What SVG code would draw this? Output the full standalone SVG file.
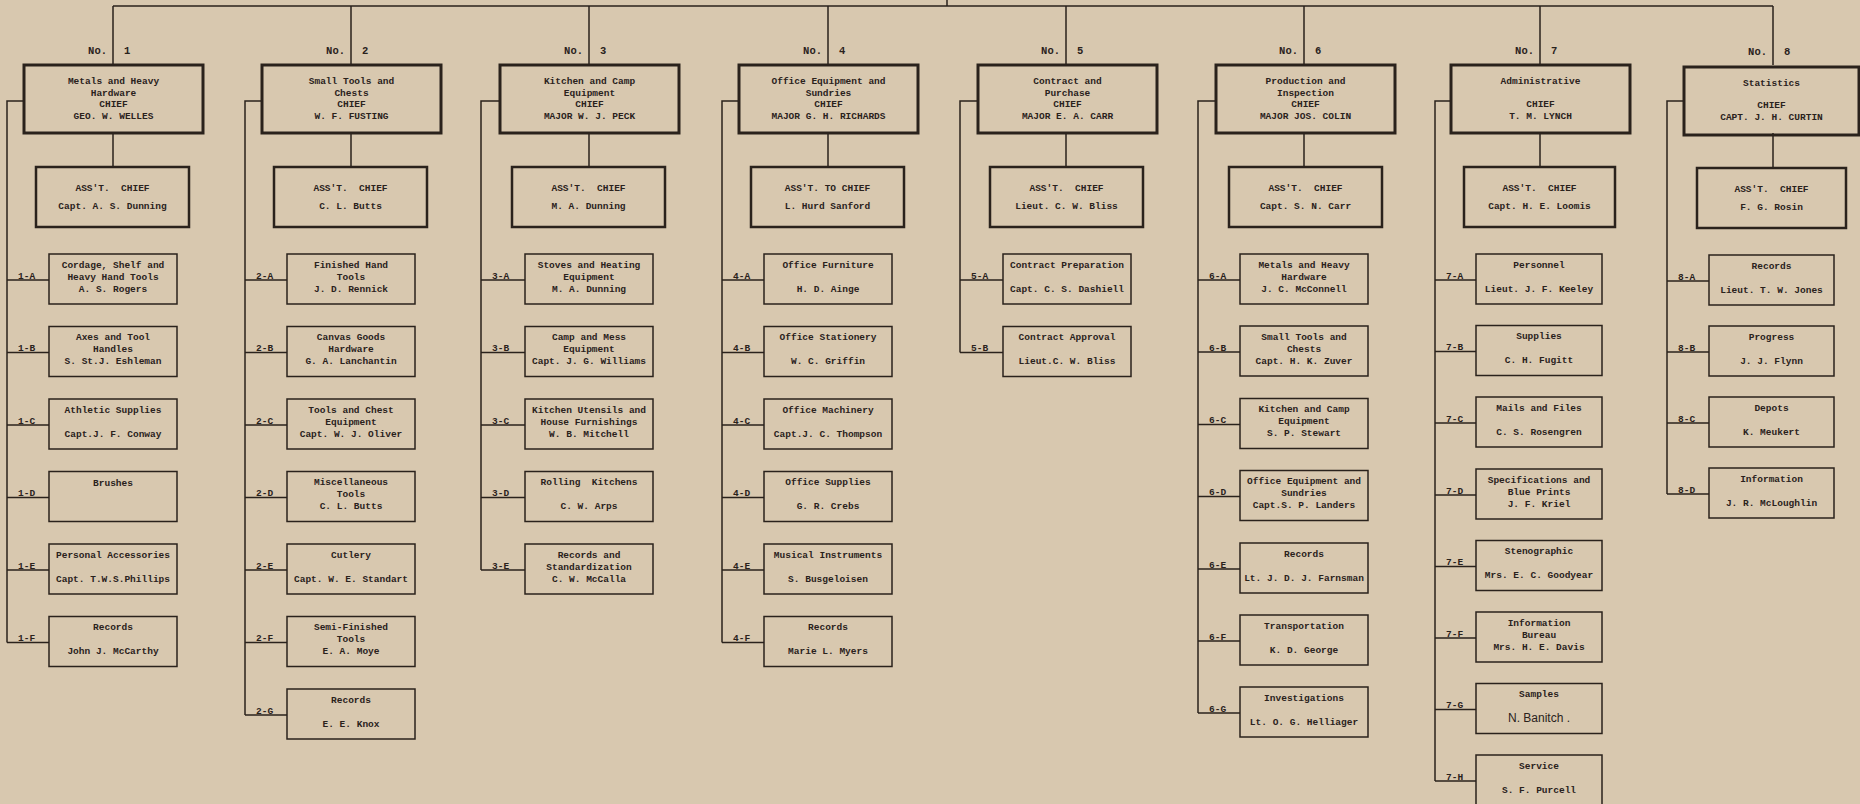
<svg xmlns="http://www.w3.org/2000/svg" width="1860" height="804" viewBox="0 0 1860 804">
<style>
.bg{fill:#d8c8af}
.bx{fill:none;stroke:#2a221c}
.chief{stroke-width:3}
.asst{stroke-width:2.5}
.sub{stroke-width:1.5}
.ln{fill:none;stroke:#2a221c;stroke-width:1.5}
text{font-family:"Liberation Mono","DejaVu Sans Mono",monospace;font-size:9.5px;font-weight:bold;fill:#2a221c;text-anchor:middle}
text.lbl{text-anchor:start}
text.no{font-size:10.5px;text-anchor:end}
text.dg{font-size:10.5px;text-anchor:start}
text.sans{font-family:"Liberation Sans",Arial,sans-serif;font-weight:normal;font-size:12px}
</style>
<rect class="bg" x="0" y="0" width="1860" height="804"/>

<g id="connectors">
<path class="ln" d="M113 6H1773M947 0V6"/>
<path class="ln" d="M113 6V65M113 133V167M24 101H7V642.5M7 280H49M7 352.5H49M7 425H49M7 497.5H49M7 570H49M7 642.5H49"/>
<path class="ln" d="M351 6V65M351 133V167M262 101H245V715M245 280H287M245 352.5H287M245 425H287M245 497.5H287M245 570H287M245 642.5H287M245 715H287"/>
<path class="ln" d="M589 6V65M589 133V167M500 101H481V570M481 280H525M481 352.5H525M481 425H525M481 497.5H525M481 570H525"/>
<path class="ln" d="M828 6V65M828 133V167M739 101H722V642.5M722 280H764M722 352.5H764M722 425H764M722 497.5H764M722 570H764M722 642.5H764"/>
<path class="ln" d="M1066 6V65M1066 133V167M978 101H960V352.5M960 280H1003M960 352.5H1003"/>
<path class="ln" d="M1304 6V65M1304 133V167M1216 101H1198V713M1198 280H1240M1198 352H1240M1198 424.5H1240M1198 496.5H1240M1198 569H1240M1198 641H1240M1198 713H1240"/>
<path class="ln" d="M1540 6V65M1540 133V167M1451 101H1435V781M1435 280H1476M1435 351.5H1476M1435 423H1476M1435 495H1476M1435 566.5H1476M1435 638H1476M1435 709.5H1476M1435 781H1476"/>
<path class="ln" d="M1773 6V65M1773 133V167M1684 101H1667V494M1667 281H1709M1667 352H1709M1667 423H1709M1667 494H1709"/>
<g id="branch-labels">
<text class="lbl" x="18" y="278.5">1-A</text><text class="lbl" x="18" y="351">1-B</text><text class="lbl" x="18" y="423.5">1-C</text><text class="lbl" x="18" y="496">1-D</text><text class="lbl" x="18" y="568.5">1-E</text><text class="lbl" x="18" y="641">1-F</text>
<text class="lbl" x="256" y="278.5">2-A</text><text class="lbl" x="256" y="351">2-B</text><text class="lbl" x="256" y="423.5">2-C</text><text class="lbl" x="256" y="496">2-D</text><text class="lbl" x="256" y="568.5">2-E</text><text class="lbl" x="256" y="641">2-F</text><text class="lbl" x="256" y="713.5">2-G</text>
<text class="lbl" x="492" y="278.5">3-A</text><text class="lbl" x="492" y="351">3-B</text><text class="lbl" x="492" y="423.5">3-C</text><text class="lbl" x="492" y="496">3-D</text><text class="lbl" x="492" y="568.5">3-E</text>
<text class="lbl" x="733" y="278.5">4-A</text><text class="lbl" x="733" y="351">4-B</text><text class="lbl" x="733" y="423.5">4-C</text><text class="lbl" x="733" y="496">4-D</text><text class="lbl" x="733" y="568.5">4-E</text><text class="lbl" x="733" y="641">4-F</text>
<text class="lbl" x="971" y="278.5">5-A</text><text class="lbl" x="971" y="351">5-B</text>
<text class="lbl" x="1209" y="278.5">6-A</text><text class="lbl" x="1209" y="350.5">6-B</text><text class="lbl" x="1209" y="423">6-C</text><text class="lbl" x="1209" y="495">6-D</text><text class="lbl" x="1209" y="567.5">6-E</text><text class="lbl" x="1209" y="639.5">6-F</text><text class="lbl" x="1209" y="711.5">6-G</text>
<text class="lbl" x="1446" y="278.5">7-A</text><text class="lbl" x="1446" y="350">7-B</text><text class="lbl" x="1446" y="421.5">7-C</text><text class="lbl" x="1446" y="493.5">7-D</text><text class="lbl" x="1446" y="565">7-E</text><text class="lbl" x="1446" y="636.5">7-F</text><text class="lbl" x="1446" y="708">7-G</text><text class="lbl" x="1446" y="779.5">7-H</text>
<text class="lbl" x="1678" y="279.5">8-A</text><text class="lbl" x="1678" y="350.5">8-B</text><text class="lbl" x="1678" y="421.5">8-C</text><text class="lbl" x="1678" y="492.5">8-D</text>
</g>
<g id="division-numbers">
<text class="no" x="107" y="53.5">No.</text><text class="dg" x="124" y="53.5">1</text>
<text class="no" x="345" y="53.5">No.</text><text class="dg" x="362" y="53.5">2</text>
<text class="no" x="583" y="53.5">No.</text><text class="dg" x="600" y="53.5">3</text>
<text class="no" x="822" y="53.5">No.</text><text class="dg" x="839" y="53.5">4</text>
<text class="no" x="1060" y="53.5">No.</text><text class="dg" x="1077" y="53.5">5</text>
<text class="no" x="1298" y="53.5">No.</text><text class="dg" x="1315" y="53.5">6</text>
<text class="no" x="1534" y="53.5">No.</text><text class="dg" x="1551" y="53.5">7</text>
<text class="no" x="1767" y="55">No.</text><text class="dg" x="1784" y="55">8</text>
</g>
</g>

<!-- Column 1 -->
<g id="chief1" transform="translate(24,65)"><rect class="bx chief" width="179" height="68"/><text x="89.5" y="18.5">Metals and Heavy</text><text x="89.5" y="30.5">Hardware</text><text x="89.5" y="42">CHIEF</text><text x="89.5" y="53.5">GEO. W. WELLES</text></g>
<g id="asst1" transform="translate(36,167)"><rect class="bx asst" width="153" height="60"/><text x="76.5" y="23.5">ASS'T.&#160;&#160;CHIEF</text><text x="76.5" y="41.5">Capt. A. S. Dunning</text></g>
<g id="n1A" transform="translate(49,254)"><rect class="bx sub" width="128" height="50"/><text x="64" y="13.5">Cordage, Shelf and</text><text x="64" y="25.5">Heavy Hand Tools</text><text x="64" y="37.5">A. S. Rogers</text></g>
<g id="n1B" transform="translate(49,326.5)"><rect class="bx sub" width="128" height="50"/><text x="64" y="13.5">Axes and Tool</text><text x="64" y="25.5">Handles</text><text x="64" y="37.5">S. St.J. Eshleman</text></g>
<g id="n1C" transform="translate(49,399)"><rect class="bx sub" width="128" height="50"/><text x="64" y="13.5">Athletic Supplies</text><text x="64" y="37.5">Capt.J. F. Conway</text></g>
<g id="n1D" transform="translate(49,471.5)"><rect class="bx sub" width="128" height="50"/><text x="64" y="14">Brushes</text></g>
<g id="n1E" transform="translate(49,544)"><rect class="bx sub" width="128" height="50"/><text x="64" y="13.5">Personal Accessories</text><text x="64" y="37.5">Capt. T.W.S.Phillips</text></g>
<g id="n1F" transform="translate(49,616.5)"><rect class="bx sub" width="128" height="50"/><text x="64" y="13.5">Records</text><text x="64" y="37.5">John J. McCarthy</text></g>

<!-- Column 2 -->
<g id="chief2" transform="translate(262,65)"><rect class="bx chief" width="179" height="68"/><text x="89.5" y="18.5">Small Tools and</text><text x="89.5" y="30.5">Chests</text><text x="89.5" y="42">CHIEF</text><text x="89.5" y="53.5">W. F. FUSTING</text></g>
<g id="asst2" transform="translate(274,167)"><rect class="bx asst" width="153" height="60"/><text x="76.5" y="23.5">ASS'T.&#160;&#160;CHIEF</text><text x="76.5" y="41.5">C. L. Butts</text></g>
<g id="n2A" transform="translate(287,254)"><rect class="bx sub" width="128" height="50"/><text x="64" y="13.5">Finished Hand</text><text x="64" y="25.5">Tools</text><text x="64" y="37.5">J. D. Rennick</text></g>
<g id="n2B" transform="translate(287,326.5)"><rect class="bx sub" width="128" height="50"/><text x="64" y="13.5">Canvas Goods</text><text x="64" y="25.5">Hardware</text><text x="64" y="37.5">G. A. Lanchantin</text></g>
<g id="n2C" transform="translate(287,399)"><rect class="bx sub" width="128" height="50"/><text x="64" y="13.5">Tools and Chest</text><text x="64" y="25.5">Equipment</text><text x="64" y="37.5">Capt. W. J. Oliver</text></g>
<g id="n2D" transform="translate(287,471.5)"><rect class="bx sub" width="128" height="50"/><text x="64" y="13.5">Miscellaneous</text><text x="64" y="25.5">Tools</text><text x="64" y="37.5">C. L. Butts</text></g>
<g id="n2E" transform="translate(287,544)"><rect class="bx sub" width="128" height="50"/><text x="64" y="13.5">Cutlery</text><text x="64" y="37.5">Capt. W. E. Standart</text></g>
<g id="n2F" transform="translate(287,616.5)"><rect class="bx sub" width="128" height="50"/><text x="64" y="13.5">Semi-Finished</text><text x="64" y="25.5">Tools</text><text x="64" y="37.5">E. A. Moye</text></g>
<g id="n2G" transform="translate(287,689)"><rect class="bx sub" width="128" height="50"/><text x="64" y="13.5">Records</text><text x="64" y="37.5">E. E. Knox</text></g>

<!-- Column 3 -->
<g id="chief3" transform="translate(500,65)"><rect class="bx chief" width="179" height="68"/><text x="89.5" y="18.5">Kitchen and Camp</text><text x="89.5" y="30.5">Equipment</text><text x="89.5" y="42">CHIEF</text><text x="89.5" y="53.5">MAJOR W. J. PECK</text></g>
<g id="asst3" transform="translate(512,167)"><rect class="bx asst" width="153" height="60"/><text x="76.5" y="23.5">ASS'T.&#160;&#160;CHIEF</text><text x="76.5" y="41.5">M. A. Dunning</text></g>
<g id="n3A" transform="translate(525,254)"><rect class="bx sub" width="128" height="50"/><text x="64" y="13.5">Stoves and Heating</text><text x="64" y="25.5">Equipment</text><text x="64" y="37.5">M. A. Dunning</text></g>
<g id="n3B" transform="translate(525,326.5)"><rect class="bx sub" width="128" height="50"/><text x="64" y="13.5">Camp and Mess</text><text x="64" y="25.5">Equipment</text><text x="64" y="37.5">Capt. J. G. Williams</text></g>
<g id="n3C" transform="translate(525,399)"><rect class="bx sub" width="128" height="50"/><text x="64" y="13.5">Kitchen Utensils and</text><text x="64" y="25.5">House Furnishings</text><text x="64" y="37.5">W. B. Mitchell</text></g>
<g id="n3D" transform="translate(525,471.5)"><rect class="bx sub" width="128" height="50"/><text x="64" y="13.5">Rolling&#160;&#160;Kitchens</text><text x="64" y="37.5">C. W. Arps</text></g>
<g id="n3E" transform="translate(525,544)"><rect class="bx sub" width="128" height="50"/><text x="64" y="13.5">Records and</text><text x="64" y="25.5">Standardization</text><text x="64" y="37.5">C. W. McCalla</text></g>

<!-- Column 4 -->
<g id="chief4" transform="translate(739,65)"><rect class="bx chief" width="179" height="68"/><text x="89.5" y="18.5">Office Equipment and</text><text x="89.5" y="30.5">Sundries</text><text x="89.5" y="42">CHIEF</text><text x="89.5" y="53.5">MAJOR G. H. RICHARDS</text></g>
<g id="asst4" transform="translate(751,167)"><rect class="bx asst" width="153" height="60"/><text x="76.5" y="23.5">ASS'T. TO CHIEF</text><text x="76.5" y="41.5">L. Hurd Sanford</text></g>
<g id="n4A" transform="translate(764,254)"><rect class="bx sub" width="128" height="50"/><text x="64" y="13.5">Office Furniture</text><text x="64" y="37.5">H. D. Ainge</text></g>
<g id="n4B" transform="translate(764,326.5)"><rect class="bx sub" width="128" height="50"/><text x="64" y="13.5">Office Stationery</text><text x="64" y="37.5">W. C. Griffin</text></g>
<g id="n4C" transform="translate(764,399)"><rect class="bx sub" width="128" height="50"/><text x="64" y="13.5">Office Machinery</text><text x="64" y="37.5">Capt.J. C. Thompson</text></g>
<g id="n4D" transform="translate(764,471.5)"><rect class="bx sub" width="128" height="50"/><text x="64" y="13.5">Office Supplies</text><text x="64" y="37.5">G. R. Crebs</text></g>
<g id="n4E" transform="translate(764,544)"><rect class="bx sub" width="128" height="50"/><text x="64" y="13.5">Musical Instruments</text><text x="64" y="37.5">S. Busgeloisen</text></g>
<g id="n4F" transform="translate(764,616.5)"><rect class="bx sub" width="128" height="50"/><text x="64" y="13.5">Records</text><text x="64" y="37.5">Marie L. Myers</text></g>

<!-- Column 5 -->
<g id="chief5" transform="translate(978,65)"><rect class="bx chief" width="179" height="68"/><text x="89.5" y="18.5">Contract and</text><text x="89.5" y="30.5">Purchase</text><text x="89.5" y="42">CHIEF</text><text x="89.5" y="53.5">MAJOR E. A. CARR</text></g>
<g id="asst5" transform="translate(990,167)"><rect class="bx asst" width="153" height="60"/><text x="76.5" y="23.5">ASS'T.&#160;&#160;CHIEF</text><text x="76.5" y="41.5">Lieut. C. W. Bliss</text></g>
<g id="n5A" transform="translate(1003,254)"><rect class="bx sub" width="128" height="50"/><text x="64" y="13.5">Contract Preparation</text><text x="64" y="37.5">Capt. C. S. Dashiell</text></g>
<g id="n5B" transform="translate(1003,326.5)"><rect class="bx sub" width="128" height="50"/><text x="64" y="13.5">Contract Approval</text><text x="64" y="37.5">Lieut.C. W. Bliss</text></g>

<!-- Column 6 -->
<g id="chief6" transform="translate(1216,65)"><rect class="bx chief" width="179" height="68"/><text x="89.5" y="18.5">Production and</text><text x="89.5" y="30.5">Inspection</text><text x="89.5" y="42">CHIEF</text><text x="89.5" y="53.5">MAJOR JOS. COLIN</text></g>
<g id="asst6" transform="translate(1229,167)"><rect class="bx asst" width="153" height="60"/><text x="76.5" y="23.5">ASS'T.&#160;&#160;CHIEF</text><text x="76.5" y="41.5">Capt. S. N. Carr</text></g>
<g id="n6A" transform="translate(1240,254)"><rect class="bx sub" width="128" height="50"/><text x="64" y="13.5">Metals and Heavy</text><text x="64" y="25.5">Hardware</text><text x="64" y="37.5">J. C. McConnell</text></g>
<g id="n6B" transform="translate(1240,326)"><rect class="bx sub" width="128" height="50"/><text x="64" y="13.5">Small Tools and</text><text x="64" y="25.5">Chests</text><text x="64" y="37.5">Capt. H. K. Zuver</text></g>
<g id="n6C" transform="translate(1240,398.5)"><rect class="bx sub" width="128" height="50"/><text x="64" y="13.5">Kitchen and Camp</text><text x="64" y="25.5">Equipment</text><text x="64" y="37.5">S. P. Stewart</text></g>
<g id="n6D" transform="translate(1240,470.5)"><rect class="bx sub" width="128" height="50"/><text x="64" y="13.5">Office Equipment and</text><text x="64" y="25.5">Sundries</text><text x="64" y="37.5">Capt.S. P. Landers</text></g>
<g id="n6E" transform="translate(1240,543)"><rect class="bx sub" width="128" height="50"/><text x="64" y="13.5">Records</text><text x="64" y="37.5">Lt. J. D. J. Farnsman</text></g>
<g id="n6F" transform="translate(1240,615)"><rect class="bx sub" width="128" height="50"/><text x="64" y="13.5">Transportation</text><text x="64" y="37.5">K. D. George</text></g>
<g id="n6G" transform="translate(1240,687)"><rect class="bx sub" width="128" height="50"/><text x="64" y="13.5">Investigations</text><text x="64" y="37.5">Lt. O. G. Helliager</text></g>

<!-- Column 7 -->
<g id="chief7" transform="translate(1451,65)"><rect class="bx chief" width="179" height="68"/><text x="89.5" y="18.5">Administrative</text><text x="89.5" y="42">CHIEF</text><text x="89.5" y="53.5">T. M. LYNCH</text></g>
<g id="asst7" transform="translate(1464,167)"><rect class="bx asst" width="151" height="60"/><text x="75.5" y="23.5">ASS'T.&#160;&#160;CHIEF</text><text x="75.5" y="41.5">Capt. H. E. Loomis</text></g>
<g id="n7A" transform="translate(1476,254)"><rect class="bx sub" width="126" height="50"/><text x="63" y="13.5">Personnel</text><text x="63" y="37.5">Lieut. J. F. Keeley</text></g>
<g id="n7B" transform="translate(1476,325.5)"><rect class="bx sub" width="126" height="50"/><text x="63" y="13.5">Supplies</text><text x="63" y="37.5">C. H. Fugitt</text></g>
<g id="n7C" transform="translate(1476,397)"><rect class="bx sub" width="126" height="50"/><text x="63" y="13.5">Mails and Files</text><text x="63" y="37.5">C. S. Rosengren</text></g>
<g id="n7D" transform="translate(1476,469)"><rect class="bx sub" width="126" height="50"/><text x="63" y="13.5">Specifications and</text><text x="63" y="25.5">Blue Prints</text><text x="63" y="37.5">J. F. Kriel</text></g>
<g id="n7E" transform="translate(1476,540.5)"><rect class="bx sub" width="126" height="50"/><text x="63" y="13.5">Stenographic</text><text x="63" y="37.5">Mrs. E. C. Goodyear</text></g>
<g id="n7F" transform="translate(1476,612)"><rect class="bx sub" width="126" height="50"/><text x="63" y="13.5">Information</text><text x="63" y="25.5">Bureau</text><text x="63" y="37.5">Mrs. H. E. Davis</text></g>
<g id="n7G" transform="translate(1476,683.5)"><rect class="bx sub" width="126" height="50"/><text x="63" y="13.5">Samples</text><text class="sans" x="63" y="38.5">N. Banitch .</text></g>
<g id="n7H" transform="translate(1476,755)"><rect class="bx sub" width="126" height="50"/><text x="63" y="13.5">Service</text><text x="63" y="37.5">S. F. Purcell</text></g>

<!-- Column 8 -->
<g id="chief8" transform="translate(1684,67)"><rect class="bx chief" width="175" height="68"/><text x="87.5" y="18.5">Statistics</text><text x="87.5" y="41">CHIEF</text><text x="87.5" y="52.5">CAPT. J. H. CURTIN</text></g>
<g id="asst8" transform="translate(1697,168)"><rect class="bx asst" width="149" height="60"/><text x="74.5" y="23.5">ASS'T.&#160;&#160;CHIEF</text><text x="74.5" y="41.5">F. G. Rosin</text></g>
<g id="n8A" transform="translate(1709,255)"><rect class="bx sub" width="125" height="50"/><text x="62.5" y="13.5">Records</text><text x="62.5" y="37.5">Lieut. T. W. Jones</text></g>
<g id="n8B" transform="translate(1709,326)"><rect class="bx sub" width="125" height="50"/><text x="62.5" y="13.5">Progress</text><text x="62.5" y="37.5">J. J. Flynn</text></g>
<g id="n8C" transform="translate(1709,397)"><rect class="bx sub" width="125" height="50"/><text x="62.5" y="13.5">Depots</text><text x="62.5" y="37.5">K. Meukert</text></g>
<g id="n8D" transform="translate(1709,468)"><rect class="bx sub" width="125" height="50"/><text x="62.5" y="13.5">Information</text><text x="62.5" y="37.5">J. R. McLoughlin</text></g>
</svg>
